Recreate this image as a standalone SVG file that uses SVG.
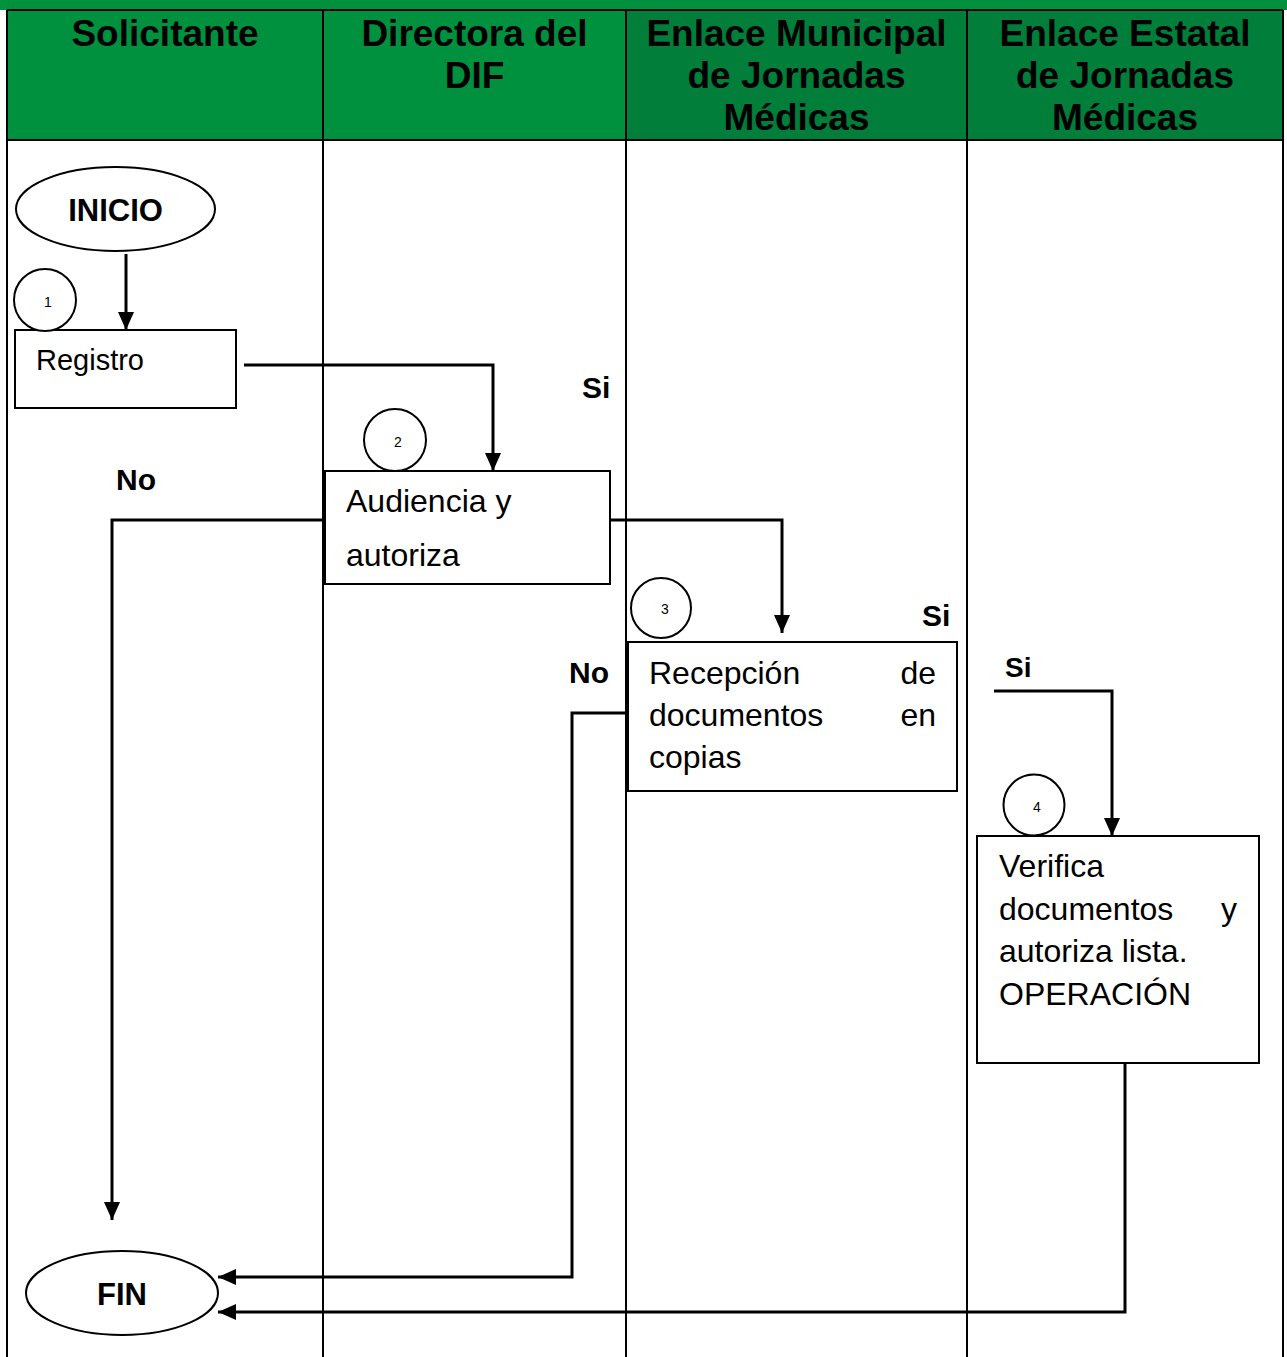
<svg xmlns="http://www.w3.org/2000/svg" width="1287" height="1357" viewBox="0 0 1287 1357">
  <style>
    .lane { stroke: #000; stroke-width: 2; fill: none; }
    .hdr { font-family: "Liberation Sans", Arial, sans-serif; font-weight: bold; font-size: 37px; fill: #000; text-anchor: middle; }
    .box { fill: #fff; stroke: #000; stroke-width: 2; }
    .txt { font-family: "Liberation Sans", Arial, sans-serif; font-size: 32px; fill: #000; }
    .term { font-family: "Liberation Sans", Arial, sans-serif; font-weight: bold; font-size: 31px; fill: #000; text-anchor: middle; }
    .num { font-family: "Liberation Sans", Arial, sans-serif; font-size: 14px; fill: #000; text-anchor: middle; }
    .lbl { font-family: "Liberation Sans", Arial, sans-serif; font-weight: bold; font-size: 30px; fill: #000; }
    .conn { stroke: #000; stroke-width: 3; fill: none; }
  </style>
  <defs>
    <marker id="arrow" markerUnits="userSpaceOnUse" markerWidth="18" markerHeight="16" refX="18" refY="8" orient="auto">
      <path d="M0,0 L18,8 L0,16 z" fill="#000"/>
    </marker>
  </defs>

  <!-- page background -->
  <rect x="0" y="0" width="1287" height="1357" fill="#fff"/>

  <!-- lane header -->
  <g id="header">
    <rect x="0" y="0" width="1287" height="10" fill="#00913f"/>
    <rect x="7" y="10" width="619" height="130" fill="#00913f"/>
    <rect x="626" y="10" width="657" height="130" fill="#007e3a"/>
    <line class="lane" x1="7" y1="10" x2="1283" y2="10"/>
    <line class="lane" x1="7" y1="140" x2="1283" y2="140"/>
    <text class="hdr" x="165" y="46">Solicitante</text>
    <text class="hdr" x="474.5" y="46">Directora del</text>
    <text class="hdr" x="474.5" y="88">DIF</text>
    <text class="hdr" x="796.5" y="46">Enlace Municipal</text>
    <text class="hdr" x="796.5" y="88">de Jornadas</text>
    <text class="hdr" x="796.5" y="130">Médicas</text>
    <text class="hdr" x="1125" y="46">Enlace Estatal</text>
    <text class="hdr" x="1125" y="88">de Jornadas</text>
    <text class="hdr" x="1125" y="130">Médicas</text>
  </g>

  <!-- lane dividers -->
  <g id="lanes">
    <line class="lane" x1="7" y1="10" x2="7" y2="1357"/>
    <line class="lane" x1="323" y1="10" x2="323" y2="1357"/>
    <line class="lane" x1="626" y1="10" x2="626" y2="1357"/>
    <line class="lane" x1="967" y1="10" x2="967" y2="1357"/>
    <line class="lane" x1="1283" y1="10" x2="1283" y2="1357"/>
  </g>

  <!-- connectors -->
  <g id="connectors">
    <path class="conn" d="M126,254 V330" marker-end="url(#arrow)"/>
    <path class="conn" d="M244,365 H493 V471" marker-end="url(#arrow)"/>
    <path class="conn" d="M325,520 H112 V1220" marker-end="url(#arrow)"/>
    <path class="conn" d="M610,520 H782 V633" marker-end="url(#arrow)"/>
    <path class="conn" d="M628,713 H572 V1277 H218" marker-end="url(#arrow)"/>
    <path class="conn" d="M994,691 H1112 V836" marker-end="url(#arrow)"/>
    <path class="conn" d="M1125,1064 V1312 H218" marker-end="url(#arrow)"/>
    <text class="lbl" x="582" y="398">Si</text>
    <text class="lbl" x="116" y="490">No</text>
    <text class="lbl" x="922" y="626">Si</text>
    <text class="lbl" x="569" y="683">No</text>
    <text class="lbl" x="1005" y="677" style="font-size:28px">Si</text>
  </g>

  <g id="inicio">
    <ellipse class="box" cx="115.5" cy="209" rx="99.5" ry="42"/>
    <text class="term" x="115.5" y="221">INICIO</text>
  </g>

  <g id="registro">
    <rect class="box" x="15" y="330" width="221" height="78"/>
    <text class="txt" x="36" y="370" style="font-size:29px">Registro</text>
    <circle class="box" cx="45" cy="300" r="31"/>
    <text class="num" x="48" y="307">1</text>
  </g>

  <g id="audiencia">
    <rect class="box" x="325" y="471" width="285" height="113"/>
    <text class="txt" x="346" y="512">Audiencia y</text>
    <text class="txt" x="346" y="566">autoriza</text>
    <circle class="box" cx="395" cy="440" r="31"/>
    <text class="num" x="398" y="447">2</text>
  </g>

  <g id="recepcion">
    <rect class="box" x="628" y="642" width="329" height="149"/>
    <text class="txt" x="649" y="684">Recepción</text>
    <text class="txt" x="936" y="684" text-anchor="end">de</text>
    <text class="txt" x="649" y="726">documentos</text>
    <text class="txt" x="936" y="726" text-anchor="end">en</text>
    <text class="txt" x="649" y="768">copias</text>
    <circle class="box" cx="661" cy="608" r="30"/>
    <text class="num" x="665" y="614">3</text>
  </g>

  <g id="verifica">
    <rect class="box" x="977" y="836" width="282" height="227"/>
    <text class="txt" x="999" y="877">Verifica</text>
    <text class="txt" x="999" y="920">documentos</text>
    <text class="txt" x="1237" y="920" text-anchor="end">y</text>
    <text class="txt" x="999" y="962">autoriza lista.</text>
    <text class="txt" x="999" y="1005">OPERACIÓN</text>
    <circle class="box" cx="1034" cy="805" r="30.5"/>
    <text class="num" x="1037" y="812">4</text>
  </g>

  <g id="fin">
    <ellipse class="box" cx="122" cy="1293" rx="96" ry="42"/>
    <text class="term" x="122" y="1305">FIN</text>
  </g>
</svg>
